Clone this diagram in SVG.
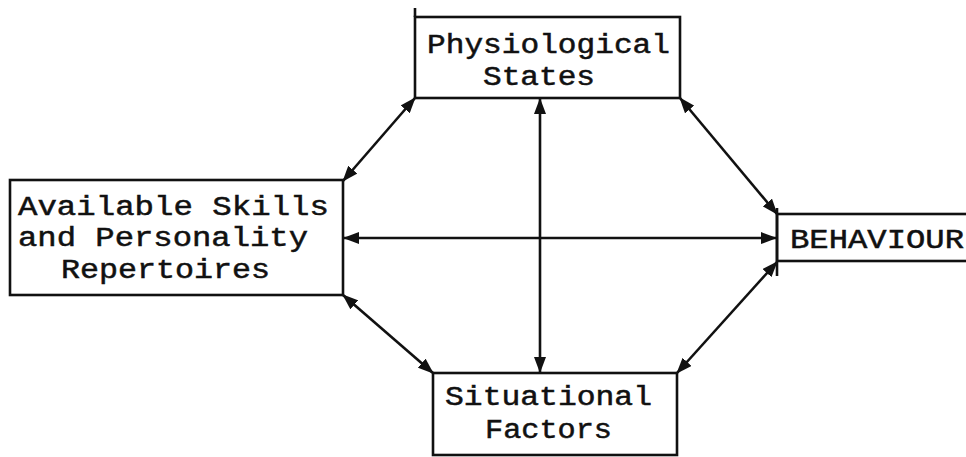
<svg xmlns="http://www.w3.org/2000/svg" width="966" height="457" viewBox="0 0 966 457">
<style>
.box{fill:#fff;stroke:#111;stroke-width:2.6}
.edge{stroke:#111;stroke-width:2.6;fill:none}
.t{font-family:"Liberation Mono","Courier New",monospace;font-size:27px;fill:#111;stroke:#111;stroke-width:0.5}
</style>
<defs>
<marker id="ah" viewBox="0 0 16 12" refX="15" refY="6" markerWidth="16" markerHeight="12" markerUnits="userSpaceOnUse" orient="auto-start-reverse">
<path d="M0,0 L16,6 L0,12 Z" fill="#111"/>
</marker>
</defs>
<g id="connectors">
<line class="edge" x1="415" y1="98" x2="343" y2="181" marker-start="url(#ah)" marker-end="url(#ah)"/>
<line class="edge" x1="680" y1="98" x2="777" y2="214" marker-start="url(#ah)" marker-end="url(#ah)"/>
<line class="edge" x1="343" y1="295" x2="433" y2="373" marker-start="url(#ah)" marker-end="url(#ah)"/>
<line class="edge" x1="677" y1="373" x2="777" y2="262" marker-start="url(#ah)" marker-end="url(#ah)"/>
<line class="edge" x1="540" y1="99" x2="540" y2="372" marker-start="url(#ah)" marker-end="url(#ah)"/>
<line class="edge" x1="344" y1="238" x2="776" y2="238" marker-start="url(#ah)" marker-end="url(#ah)"/>
</g>
<g id="physiological">
<rect class="box" x="415" y="17" width="265" height="81"/>
<line class="edge" x1="415" y1="8" x2="415" y2="17"/>
<text class="t" x="427" y="53" textLength="243" lengthAdjust="spacingAndGlyphs">Physiological</text>
<text class="t" x="483" y="85" textLength="112" lengthAdjust="spacingAndGlyphs">States</text>
</g>
<g id="skills">
<rect class="box" x="10" y="180" width="333" height="115"/>
<text class="t" x="18" y="215" textLength="311" lengthAdjust="spacingAndGlyphs">Available Skills</text>
<text class="t" x="18" y="246" textLength="290" lengthAdjust="spacingAndGlyphs">and Personality</text>
<text class="t" x="61" y="278" textLength="209" lengthAdjust="spacingAndGlyphs">Repertoires</text>
</g>
<g id="behaviour">
<rect class="box" x="777" y="214" width="200" height="47"/>
<line class="edge" x1="777" y1="208" x2="777" y2="276"/>
<text class="t" x="790" y="248" textLength="174" lengthAdjust="spacingAndGlyphs">BEHAVIOUR</text>
</g>
<g id="situational">
<rect class="box" x="433" y="373" width="244" height="82"/>
<text class="t" x="445" y="405" textLength="207" lengthAdjust="spacingAndGlyphs">Situational</text>
<text class="t" x="485" y="438" textLength="127" lengthAdjust="spacingAndGlyphs">Factors</text>
</g>
</svg>
